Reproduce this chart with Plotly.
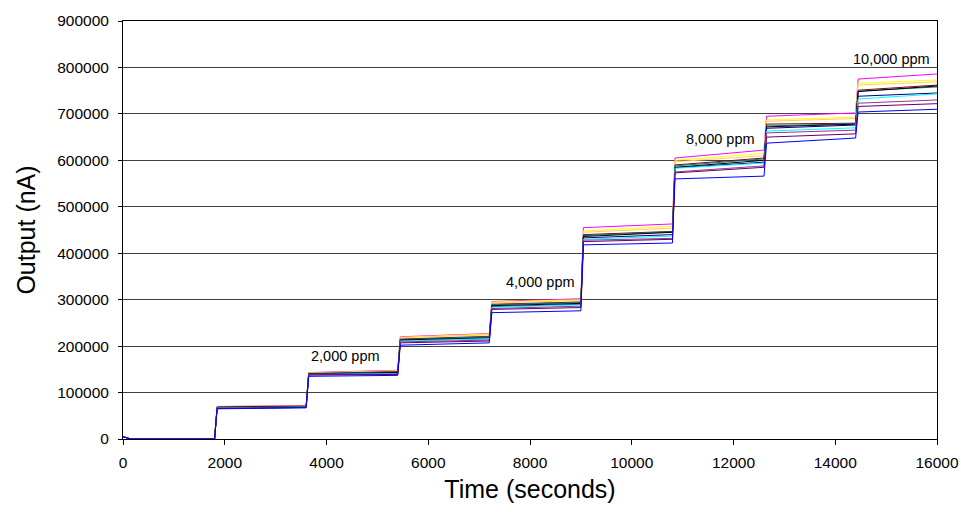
import plotly.graph_objects as go

# Time points: start blip, baseline, then for each step (end of previous level, new level start) and level end
times = [0, 150, 1800, 1850, 3600, 3650, 5400, 5450, 7200, 7250, 9000, 9050,
         10800, 10850, 12600, 12650, 14400, 14450, 16000]

# Level (start, end) values per series for levels 1..8
magenta = [(70000, 72000), (143000, 148000), (220000, 227000), (296000, 302000), (455000, 463000), (605000, 622000), (695000, 702000), (775000, 786000)]
yellow = [(70000, 71000), (142000, 147000), (219000, 226000), (295000, 300000), (448000, 458000), (600000, 615000), (687000, 693000), (766000, 773000)]
orange = [(69000, 71000), (142000, 146000), (218000, 224000), (293000, 298000), (445000, 454000), (597000, 610000), (684000, 690000), (762000, 769000)]
brown = [(69000, 71000), (141000, 145000), (215000, 221000), (290000, 295000), (440000, 447000), (590000, 605000), (678000, 680000), (751000, 762000)]
teal = [(68000, 70000), (140000, 144000), (214000, 220000), (289000, 294000), (438000, 446000), (588000, 603000), (674000, 679000), (749000, 758000)]
black = [(68000, 70000), (140000, 143000), (213000, 218000), (287000, 292000), (436000, 445000), (585000, 600000), (672000, 678000), (748000, 760000)]
navy = [(67000, 69000), (139000, 142000), (212000, 216000), (285000, 290000), (433000, 440000), (584000, 596000), (669000, 676000), (738000, 745000)]
cyan = [(67000, 69000), (139000, 141000), (211000, 216000), (284000, 289000), (430000, 437000), (583000, 594000), (663000, 670000), (732000, 743000)]
plum = [(66000, 68000), (138000, 140000), (209000, 213000), (281000, 286000), (428000, 432000), (575000, 588000), (659000, 665000), (723000, 730000)]
darkpurple = [(66000, 68000), (138000, 139000), (207000, 211000), (279000, 283000), (425000, 430000), (573000, 585000), (650000, 657000), (716000, 722000)]
blue = [(65000, 67000), (135000, 137000), (202000, 207000), (272000, 276000), (418000, 422000), (560000, 566000), (637000, 648000), (704000, 710000)]

series = [
    ("Sensor 1", magenta, "#FF00FF"),
    ("Sensor 2", yellow, "#FFFF00"),
    ("Sensor 3", orange, "#FFCC66"),
    ("Sensor 4", brown, "#800000"),
    ("Sensor 5", teal, "#008080"),
    ("Sensor 6", black, "#000000"),
    ("Sensor 7", navy, "#000080"),
    ("Sensor 8", cyan, "#00FFFF"),
    ("Sensor 9", plum, "#993399"),
    ("Sensor 10", darkpurple, "#660066"),
    ("Sensor 11", blue, "#0000FF"),
]

baseline_start = 5000
baseline = 0

annotations_text = ["2,000 ppm", "4,000 ppm", "8,000 ppm", "10,000 ppm"]
annotations_x = [4364, 8216, 11754, 15096]
annotations_y = [178000, 338000, 646000, 818000]

fig = go.Figure()
for name, levels, color in series:
    ys = [baseline_start, baseline, baseline]
    for s, e in levels:
        ys.append(s)
        ys.append(e)
    fig.add_trace(go.Scatter(x=times, y=ys, mode="lines", name=name,
                             line=dict(color=color, width=1), showlegend=False))

for t, x, y in zip(annotations_text, annotations_x, annotations_y):
    fig.add_annotation(x=x, y=y, text=t, showarrow=False,
                       font=dict(family="Liberation Sans, Arial", size=14.5, color="#000000"))

fig.update_layout(
    width=961, height=512,
    margin=dict(l=123, r=24, t=21, b=73, autoexpand=False),
    paper_bgcolor="white", plot_bgcolor="white",
    font=dict(family="Liberation Sans, Arial", color="#000000"),
)
fig.update_xaxes(range=[0, 16000], dtick=2000, tickformat="d",
                 showgrid=False, showline=True, linecolor="#000000", linewidth=1,
                 mirror=True, ticks="outside", ticklen=5, tickcolor="#000000",
                 ticklabelstandoff=4,
                 tickfont=dict(size=15.5),
                 title=dict(text="Time (seconds)", font=dict(size=25), standoff=10),
                 zeroline=False, automargin=False)
fig.update_yaxes(range=[0, 900000], dtick=100000, tickformat="d",
                 showgrid=True, gridcolor="#404040", gridwidth=1,
                 showline=True, linecolor="#000000", linewidth=1, mirror=True,
                 ticks="outside", ticklen=4, tickcolor="#000000",
                 ticklabelstandoff=6, tickfont=dict(size=15.5),
                 title=dict(text="Output (nA)", font=dict(size=25), standoff=14),
                 zeroline=False, automargin=False)

fig.write_html("out.html", config={"displayModeBar": False},
               post_script="document.body.style.margin='0'; document.body.style.overflow='hidden';")
